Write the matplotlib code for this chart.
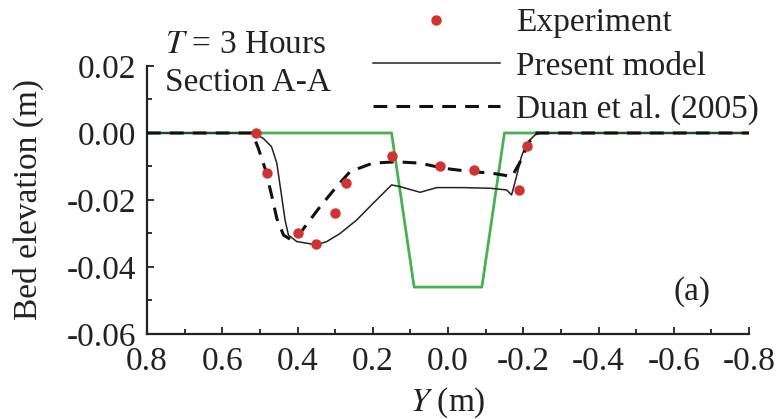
import matplotlib
matplotlib.use("Agg")
import matplotlib.pyplot as plt
from matplotlib.ticker import MultipleLocator, FormatStrFormatter

plt.rcParams["font.family"] = ["Liberation Serif", "DejaVu Serif"]
plt.rcParams["mathtext.fontset"] = "stix"
plt.rcParams["axes.unicode_minus"] = False

# channel (initial bed)
chan_y = [0.8, 0.15, 0.09, -0.09, -0.15, -0.8]
chan_z = [0.0, 0.0, -0.046, -0.046, 0.0, 0.0]

# experiment
exp_y = [0.51, 0.48, 0.40, 0.35, 0.30, 0.27, 0.15, 0.02, -0.07, -0.19, -0.21]
exp_z = [0.0, -0.012, -0.030, -0.033, -0.024, -0.015, -0.007, -0.010, -0.011, -0.017, -0.004]

# present model
mod_y = [0.8, 0.517, 0.491, 0.469, 0.455, 0.442, 0.433, 0.424, 0.402, 0.349, 0.322,
         0.287, 0.243, 0.199, 0.150, 0.128, 0.074, 0.030, -0.040, -0.112, -0.156,
         -0.169, -0.182, -0.195, -0.209, -0.231, -0.245, -0.8]
mod_z = [0.0, 0.0, -0.0016, -0.0041, -0.009, -0.019, -0.026, -0.0305, -0.0324, -0.0334, -0.0324,
         -0.030, -0.026, -0.021, -0.0155, -0.016, -0.0177, -0.0163, -0.0163, -0.0165, -0.017,
         -0.0185, -0.013, -0.0071, -0.0031, -0.0006, 0.0, 0.0]

# Duan et al. (2005)
duan_y = [0.8, 0.52, 0.504, 0.485, 0.469, 0.455, 0.437, 0.415, 0.40, 0.377, 0.34, 0.296,
          0.26, 0.20, 0.137, 0.074, 0.013, -0.058, -0.117, -0.17, -0.19, -0.21, -0.23, -0.8]
duan_z = [0.0, 0.0, -0.0046, -0.011, -0.0185, -0.0255, -0.0305, -0.032, -0.031, -0.0275, -0.022, -0.016,
          -0.0115, -0.009, -0.0086, -0.009, -0.0105, -0.0115, -0.012, -0.013, -0.009, -0.004, 0.0, 0.0]

fig = plt.figure(figsize=(7.79, 4.19), dpi=100)
ax = fig.add_axes([0.1887, 0.2029, 0.7728, 0.6396])

ax.plot(chan_y, chan_z, color="#45b24f", lw=2.0, zorder=1)
ax.plot(mod_y, mod_z, color="#222222", lw=1.1, label="Present model", zorder=2)
ax.plot(duan_y, duan_z, color="#111111", lw=2.2, dashes=(4.5, 3), label="Duan et al. (2005)", zorder=3)
ax.plot(exp_y, exp_z, "o", color="#d13232", ms=7.5, mec="none", label="Experiment", zorder=4)

ax.set_xlim(0.8, -0.8)
ax.set_ylim(-0.06, 0.02)
ax.xaxis.set_major_locator(MultipleLocator(0.2))
ax.xaxis.set_minor_locator(MultipleLocator(0.1))
ax.yaxis.set_major_locator(MultipleLocator(0.02))
ax.yaxis.set_minor_locator(MultipleLocator(0.01))
ax.xaxis.set_major_formatter(FormatStrFormatter("%.1f"))
ax.yaxis.set_major_formatter(FormatStrFormatter("%.2f"))

for s in ["top", "right"]:
    ax.spines[s].set_visible(False)
for s in ["left", "bottom"]:
    ax.spines[s].set_linewidth(1.6)
    ax.spines[s].set_color("#222222")

ax.tick_params(which="both", direction="in", labelsize=24, width=1.3, colors="#222222")
ax.tick_params(which="major", length=5)
ax.tick_params(which="minor", length=3.5)
ax.tick_params(axis="y", pad=8)
ax.tick_params(axis="x", pad=9)

ax.set_ylabel("Bed elevation (m)", fontsize=24, color="#222222", labelpad=16)
ax.set_xlabel("$\\it{Y}$ (m)", fontsize=24, color="#222222", labelpad=6)

h, l = ax.get_legend_handles_labels()
order = [2, 0, 1]
fig.legend([h[i] for i in order], [l[i] for i in order], loc="upper left",
           bbox_to_anchor=(373 / 779, 1 - 8 / 419), frameon=False, fontsize=24,
           handlelength=3.8, handletextpad=0.5, labelspacing=0.38,
           borderpad=0, borderaxespad=0, labelcolor="#222222")

fig.text(165 / 779, 1 - 45 / 419, "$\\it{T}$ = 3 Hours", fontsize=24, va="center", color="#222222")
fig.text(165 / 779, 1 - 83 / 419, "Section A-A", fontsize=24, va="center", color="#222222")
ax.text(0.905, 0.16, "(a)", transform=ax.transAxes, fontsize=24, ha="center", va="center", color="#222222")

fig.savefig("out.png", dpi=100)
